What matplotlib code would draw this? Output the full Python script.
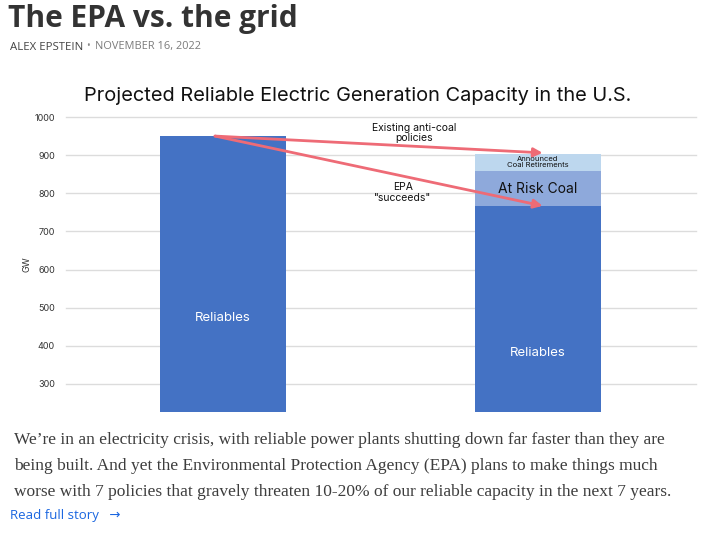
import matplotlib

matplotlib.use("Agg")
import matplotlib.pyplot as plt

# values (GW)
positions = [0, 1]
reliables = [950, 767]
at_risk_coal = [0, 92]
announced_retirements = [0, 44]
yticks = [300, 400, 500, 600, 700, 800, 900, 1000]

W, H = 701, 536
fig = plt.figure(figsize=(W / 100, H / 100), dpi=100)
fig.patch.set_facecolor("white")


def fx(px):
    return px / W


def fy(py):
    return 1 - py / H


# page header
fig.text(fx(8), fy(19), "The EPA vs. the grid", fontsize=21.5, fontweight="bold",
         family="Open Sans", color="#333333", va="center", ha="left")
fig.text(fx(10), fy(47), "ALEX EPSTEIN", fontsize=8.2, family="Open Sans",
         color="#444444", va="center", ha="left")
fig.text(fx(86), fy(47), "•", fontsize=7, family="Open Sans",
         color="#8a8a8a", va="center", ha="left")
fig.text(fx(95), fy(47), "NOVEMBER 16, 2022", fontsize=7.9, family="Open Sans",
         color="#7a7a7a", va="center", ha="left")

# chart
ax = fig.add_axes([fx(66), fy(412), fx(696) - fx(66), fy(117) - fy(412)])
ax.set_xlim(-0.498, 1.502)
ax.set_ylim(226.5, 1000)
ax.set_yticks(yticks)
ax.set_yticklabels([str(t) for t in yticks], fontsize=6.5, family="Inter", color="#333333")
ax.tick_params(axis="y", length=0, pad=8)
ax.set_xticks([])
for s in ax.spines.values():
    s.set_visible(False)
for t in yticks:
    ax.axhline(t, color="#dcdcdc", lw=1, zorder=0, clip_on=False)
ax.set_ylabel("GW", fontsize=6.5, family="Inter", color="#333333", labelpad=2)

bw = 0.4
ax.bar(positions, reliables, width=bw, color="#4472C4", zorder=2)
ax.bar(positions, at_risk_coal, width=bw, bottom=reliables, color="#8EA9DB", zorder=2)
bottom2 = [a + b for a, b in zip(reliables, at_risk_coal)]
ax.bar(positions, announced_retirements, width=bw, bottom=bottom2, color="#BDD7EE", zorder=2)

ax.text(0, 473, "Reliables", color="white", fontsize=9.5, family="Inter",
        ha="center", va="center", zorder=3)
ax.text(1, 381, "Reliables", color="white", fontsize=9.5, family="Inter",
        ha="center", va="center", zorder=3)
ax.text(1, 812, "At Risk Coal", color="#111111", fontsize=10, family="Inter",
        ha="center", va="center", zorder=3)
ax.text(1, 881, "Announced\nCoal Retirements", color="#111111", fontsize=5.5,
        family="Inter", ha="center", va="center", linespacing=1.0, zorder=3)

arrow = dict(arrowstyle="-|>", color="#EE6B76", lw=2, mutation_scale=13,
             shrinkA=0, shrinkB=0)
ax.annotate("", xy=(1.015, 906), xytext=(-0.025, 950), arrowprops=arrow, zorder=4)
ax.annotate("", xy=(1.015, 767), xytext=(-0.025, 950), arrowprops=arrow, zorder=4)
ax.text(0.606, 958, "Existing anti-coal\npolicies", fontsize=7.5, family="Inter",
        ha="center", va="center", color="#111111", linespacing=1.1)
ax.text(0.571, 803, "EPA\n\"succeeds\"", fontsize=7.5, family="Inter",
        ha="center", va="center", color="#111111", linespacing=1.1)

fig.text(fx(358), fy(96), "Projected Reliable Electric Generation Capacity in the U.S.",
         fontsize=14.4, family="Inter", color="#111111", ha="center", va="center")

# article blurb
body = [
    "We’re in an electricity crisis, with reliable power plants shutting down far faster than they are",
    "being built. And yet the Environmental Protection Agency (EPA) plans to make things much",
    "worse with 7 policies that gravely threaten 10-20% of our reliable capacity in the next 7 years.",
]
for i, line in enumerate(body):
    fig.text(fx(14), fy(440 + 26 * i), line, fontsize=12.55, family="Liberation Serif",
             color="#3d3d3d", ha="left", va="center")
fig.text(fx(10), fy(515), "Read full story   →", fontsize=9.5,
         family=["Open Sans", "DejaVu Sans"], color="#1a66e0", ha="left", va="center")

fig.savefig("out.png", dpi=100)
